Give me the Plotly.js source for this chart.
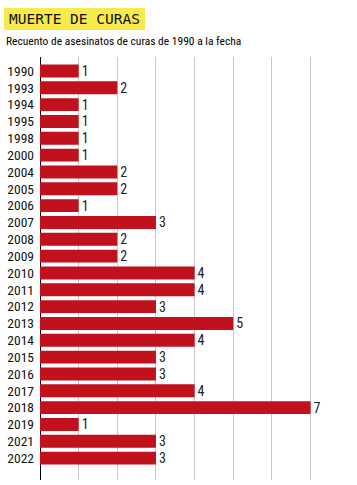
<!DOCTYPE html>
<html><head><meta charset="utf-8">
<script src="https://cdn.plot.ly/plotly-3.0.1.min.js"></script>
<style>html,body{margin:0;padding:0;background:#fff;}#c{width:357px;height:485px;}</style>
</head><body><div id="c"></div>
<script>
const years = ["1990","1993","1994","1995","1998","2000","2004","2005","2006","2007","2008","2009","2010","2011","2012","2013","2014","2015","2016","2017","2018","2019","2021","2022"];
const counts = [1,2,1,1,1,1,2,2,1,3,2,2,4,4,3,5,4,3,3,4,7,1,3,3];
const titleText = "MUERTE DE CURAS";
const subtitleText = "Recuento de asesinatos de curas de 1990 a la fecha";

const W = 357, H = 485, L = 40, R = 7, T = 57, B = 5;
const pw = W - L - R, ph = H - T - B;
const px = x => (x - L) / pw;
const py = y => (H - B - y) / ph;

const condensed = "Liberation Sans Narrow, Roboto Condensed, Arial Narrow, Roboto, sans-serif";

Plotly.newPlot("c", [{
  type: "bar",
  orientation: "h",
  y: years,
  x: counts,
  text: counts.map(String),
  textposition: "outside",
  constraintext: "none",
  cliponaxis: false,
  textfont: {family: condensed, size: 14, color: "#222"},
  marker: {color: "#c0111d", line: {width: 0}},
  hoverinfo: "none"
}], {
  width: W, height: H,
  margin: {l: L, r: R, t: T, b: B, pad: 0},
  paper_bgcolor: "#fff", plot_bgcolor: "#fff",
  bargap: 0.23,
  showlegend: false,
  xaxis: {
    range: [0, 8.02], dtick: 1, tick0: 0,
    showgrid: true, gridcolor: "#c8c8c8", gridwidth: 1,
    zeroline: true, zerolinecolor: "#000", zerolinewidth: 1,
    showticklabels: false, ticks: "", fixedrange: true
  },
  yaxis: {
    type: "category",
    range: [24.3, -0.83],
    showgrid: false, zeroline: false,
    ticks: "", ticklabelstandoff: 5,
    tickfont: {family: condensed, size: 13.5, color: "#111"},
    fixedrange: true
  },
  shapes: [{
    type: "rect", xref: "paper", yref: "paper",
    x0: px(4), x1: px(145), y0: py(30), y1: py(8),
    fillcolor: "#f8ea4c", line: {width: 0}, layer: "below"
  }],
  annotations: [{
    xref: "paper", yref: "paper", x: px(7), y: py(19.5),
    xanchor: "left", yanchor: "middle", showarrow: false,
    text: titleText,
    font: {family: "DejaVu Sans Mono, monospace", size: 14.5, color: "#111"}
  }, {
    xref: "paper", yref: "paper", x: px(4), y: py(41),
    xanchor: "left", yanchor: "middle", showarrow: false,
    text: subtitleText,
    font: {family: condensed, size: 11.5, color: "#000"}
  }]
}, {displayModeBar: false, staticPlot: true});
</script></body></html>
